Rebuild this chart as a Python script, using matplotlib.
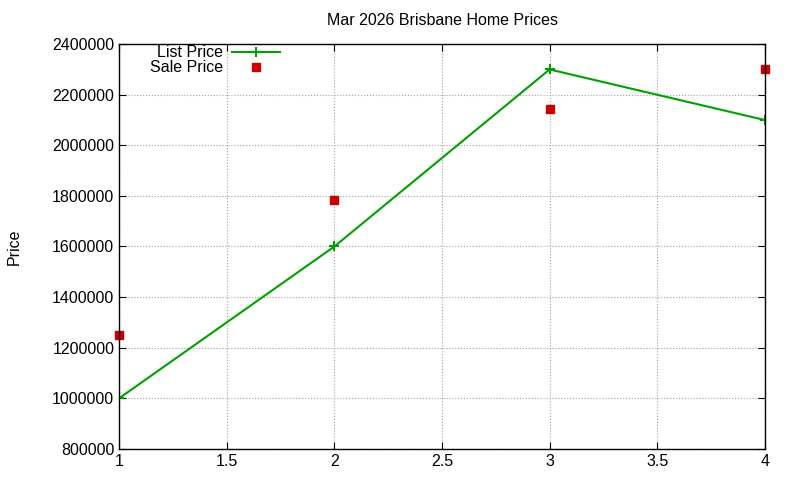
import matplotlib
matplotlib.use('Agg')
import matplotlib.pyplot as plt

x = [1, 2, 3, 4]
list_price = [1000000, 1600000, 2300000, 2100000]
sale_price = [1250000, 1785000, 2145000, 2300000]

plt.rcParams['font.family'] = ['Liberation Sans', 'DejaVu Sans']
plt.rcParams['font.size'] = 11.5

fig = plt.figure(figsize=(8, 4.8), dpi=100)
ax = fig.add_axes([0.149, 0.065, 0.807, 0.843])

ax.plot(x, list_price, color='#00a000', lw=1.5, marker='+', ms=7, mew=1.5, label='List Price')
ax.plot(x, sale_price, ls='none', color='#cc0000', marker='s', ms=5.5, label='Sale Price', clip_on=False)

ax.set_xlim(1, 4)
ax.set_ylim(800000, 2400000)
ax.set_yticks(range(800000, 2400001, 200000))
ax.set_xticks([1, 1.5, 2, 2.5, 3, 3.5, 4])
ax.set_xticklabels(['1', '1.5', '2', '2.5', '3', '3.5', '4'])
ax.ticklabel_format(axis='y', style='plain')
ax.grid(True, color='#a0a0a0', ls=':', lw=0.8)
ax.tick_params(direction='in', top=True, right=True, length=5)
ax.set_ylabel('Price', labelpad=22)
ax.set_title('Mar 2026 Brisbane Home Prices', fontsize=11.5, pad=14)

for s in ax.spines.values():
    s.set_linewidth(1)

ax.legend(loc='upper left', bbox_to_anchor=(0.03, 1.025), frameon=False, markerfirst=False,
          handlelength=3.0, borderpad=0.2, labelspacing=0.0, handletextpad=0.6)

fig.savefig('out.png', dpi=100)
